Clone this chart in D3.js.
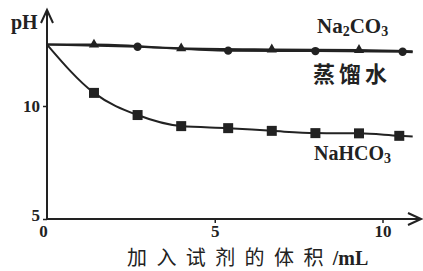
<!DOCTYPE html>
<html lang="zh">
  <head>
    <meta charset="UTF-8" />
    <title>pH 变化</title>
    <style>
      body { margin: 0; background: #fff; }
      text { fill: #222; }
    </style>
    <script src="https://d3js.org/d3.v7.min.js"></script>
  </head>
  <body>
    <div id="svg-container"></div>
    <script>
      // 数据：加入试剂体积 (mL) 与 pH
      const na2co3Vol = [0, 1.4, 4.0, 6.7, 9.3, 10.9];
      const na2co3PH = [12.72, 12.72, 12.55, 12.5, 12.48, 12.42];
      const waterVol = [0, 2.7, 5.4, 8.0, 10.6, 10.9];
      const waterPH = [12.72, 12.62, 12.45, 12.43, 12.4, 12.38];
      const nahco3Vol = [0, 1.4, 2.7, 4.0, 5.4, 6.7, 8.0, 9.3, 10.5, 10.9];
      const nahco3PH = [12.72, 10.58, 9.6, 9.11, 9.02, 8.9, 8.8, 8.79, 8.68, 8.65];
      const xTicks = [0, 5, 10];
      const yTicks = [5, 10];

      const width = 423;
      const height = 271;
      const ink = "#222";
      const serif = "Liberation Serif, serif";

      const svg = d3
        .select("#svg-container")
        .append("svg")
        .attr("width", width)
        .attr("height", height);

      const x = d3.scaleLinear().domain([0, 10]).range([47, 382.5]);
      const y = d3.scaleLinear().domain([5, 10]).range([219, 106]);

      // 坐标轴
      const xAxis = svg
        .append("g")
        .attr("transform", `translate(0,${y(5)})`)
        .call(d3.axisBottom(x).tickValues(xTicks).tickSize(4).tickPadding(2).tickFormat(d3.format("d")));
      const yAxis = svg
        .append("g")
        .attr("transform", `translate(${x(0)},0)`)
        .call(d3.axisLeft(y).tickValues(yTicks).tickSize(4).tickPadding(3).tickFormat(d3.format("d")));

      [xAxis, yAxis].forEach((g) => {
        g.select(".domain").remove();
        g.selectAll("line").attr("stroke", ink).attr("stroke-width", 1.5);
        g.selectAll("text")
          .attr("fill", ink)
          .attr("font-family", serif)
          .attr("font-weight", "bold")
          .attr("font-size", 17);
      });
      // 原点 0 往左偏一点
      xAxis.selectAll(".tick").filter((d) => d === 0).select("line").remove();
      xAxis.selectAll(".tick").filter((d) => d === 0).select("text").attr("x", -4);
      yAxis.selectAll(".tick").filter((d) => d === 5).select("text").attr("dy", "0.1em");

      // 轴线和箭头
      svg
        .append("path")
        .attr("d", `M${x(0)},${y(5)} H419`)
        .attr("stroke", ink)
        .attr("stroke-width", 2)
        .attr("fill", "none");
      svg
        .append("path")
        .attr("d", `M408,${y(5) - 6} L421,${y(5)} L408,${y(5) + 6}`)
        .attr("stroke", ink)
        .attr("stroke-width", 2)
        .attr("fill", "none");
      svg
        .append("path")
        .attr("d", `M${x(0)},${y(5)} V12`)
        .attr("stroke", ink)
        .attr("stroke-width", 2)
        .attr("fill", "none");
      svg
        .append("path")
        .attr("d", `M${x(0) - 6},23 L${x(0)},10 L${x(0) + 6},23`)
        .attr("stroke", ink)
        .attr("stroke-width", 2)
        .attr("fill", "none");

      svg
        .append("text")
        .attr("x", 11)
        .attr("y", 29)
        .attr("font-family", serif)
        .attr("font-weight", "bold")
        .attr("font-size", 20)
        .text("pH");

      // 曲线
      function drawSeries(vols, phs, shape, curve) {
        const pts = vols.map((v, i) => [v, phs[i]]);
        svg
          .append("path")
          .datum(pts)
          .attr("fill", "none")
          .attr("stroke", ink)
          .attr("stroke-width", 2)
          .attr(
            "d",
            d3
              .line()
              .curve(curve)
              .x((d) => x(d[0]))
              .y((d) => y(d[1]))
          );
        // 端点不画标记
        const marks = pts.slice(1, -1);
        svg
          .append("g")
          .selectAll("path")
          .data(marks)
          .join("path")
          .attr("transform", (d) => `translate(${x(d[0])},${y(d[1])})`)
          .attr("d", d3.symbol().type(shape.type).size(shape.size))
          .attr("fill", ink);
      }

      drawSeries(na2co3Vol, na2co3PH, { type: d3.symbolTriangle, size: 45 }, d3.curveMonotoneX);
      drawSeries(waterVol, waterPH, { type: d3.symbolCircle, size: 55 }, d3.curveMonotoneX);
      drawSeries(nahco3Vol, nahco3PH, { type: d3.symbolSquare, size: 100 }, d3.curveMonotoneX);

      // 标签
      const na2 = svg
        .append("text")
        .attr("x", 317)
        .attr("y", 33)
        .attr("font-family", serif)
        .attr("font-weight", "bold")
        .attr("font-size", 21);
      na2.append("tspan").text("Na");
      na2.append("tspan").attr("font-size", 14).attr("dy", 3).text("2");
      na2.append("tspan").attr("dy", -3).text("CO");
      na2.append("tspan").attr("font-size", 14).attr("dy", 3).text("3");

      svg
        .append("text")
        .attr("x", 313)
        .attr("y", 82)
        .attr("font-family", "Noto Sans CJK SC, sans-serif")
        .attr("font-weight", "bold")
        .attr("font-size", 22)
        .attr("letter-spacing", 4)
        .text("蒸馏水");

      const nah = svg
        .append("text")
        .attr("x", 314)
        .attr("y", 160)
        .attr("font-family", serif)
        .attr("font-weight", "bold")
        .attr("font-size", 20);
      nah.append("tspan").text("NaHCO");
      nah.append("tspan").attr("font-size", 14).attr("dy", 3).text("3");

      const title = svg
        .append("text")
        .attr("x", 127)
        .attr("y", 265)
        .attr("font-size", 20);
      title
        .append("tspan")
        .attr("font-family", "Noto Sans CJK SC, sans-serif")
        .attr("letter-spacing", 9.4)
        .text("加入试剂的体积");
      title
        .append("tspan")
        .attr("font-family", serif)
        .attr("font-weight", "bold")
        .text("/mL");
    </script>
  </body>
</html>
